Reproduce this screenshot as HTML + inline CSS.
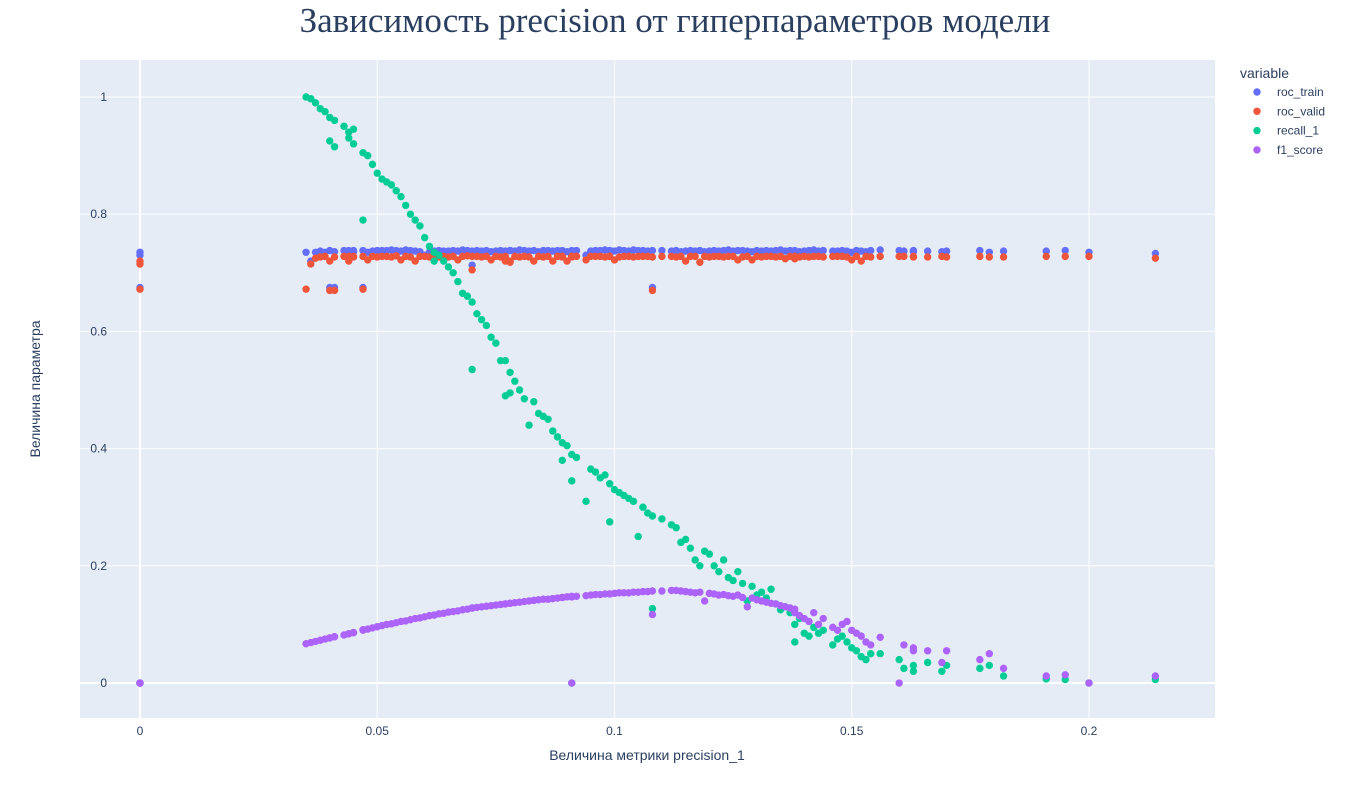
<!DOCTYPE html>
<html><head><meta charset="utf-8"><style>
body{margin:0;background:#fff;}
svg text{font-family:"Liberation Sans",sans-serif;fill:#2a3f5f;}
</style></head><body>
<svg id="chart" width="1350" height="800" xmlns="http://www.w3.org/2000/svg">
<text x="675" y="32" text-anchor="middle" style="font-family:'Liberation Serif',serif;font-size:35px;">Зависимость precision от гиперпараметров модели</text>
<rect x="80" y="60" width="1135" height="658" fill="#e5ecf6"/>
<g id="grid"></g><g id="marks"></g><g id="axes"></g>
<text x="647" y="760" text-anchor="middle" font-size="14">Величина метрики precision_1</text>
<text transform="translate(40,389) rotate(-90)" text-anchor="middle" font-size="14">Величина параметра</text>
<g id="legend">
<text x="1240" y="78" font-size="14">variable</text>
</g>
</svg>
<script>
const xTicks=[0,0.05,0.1,0.15,0.2];
const xTickLabels=["0","0.05","0.1","0.15","0.2"];
const yTicks=[0,0.2,0.4,0.6,0.8,1];
const yTickLabels=["0","0.2","0.4","0.6","0.8","1"];
const seriesNames=["roc_train","roc_valid","recall_1","f1_score"];
const seriesColors=["#636efa","#ef553b","#00cc96","#ab63fa"];
const precision=[0.035,0.036,0.037,0.038,0.039,0.040,0.041,0.040,0.041,0.043,
0.044,0.044,0.045,0.045,0.047,0.048,0.047,0.049,0.050,0.051,
0.052,0.053,0.054,0.055,0.056,0.057,0.058,0.059,0.060,0.061,
0.062,0.063,0.062,0.064,0.065,0.066,0.067,0.068,0.069,0.070,
0.070,0.071,0.072,0.073,0.074,0.075,0.076,0.077,0.078,0.077,
0.078,0.079,0.080,0.081,0.082,0.083,0.084,0.085,0.086,0.087,
0.088,0.089,0.089,0.090,0.091,0.091,0.092,0.094,0.095,0.096,
0.097,0.098,0.099,0.100,0.099,0.101,0.102,0.103,0.104,0.105,
0.106,0.107,0.108,0.108,0.110,0.112,0.113,0.114,0.115,0.116,
0.117,0.118,0.119,0.120,0.121,0.122,0.123,0.124,0.125,0.126,
0.127,0.128,0.129,0.130,0.131,0.132,0.133,0.134,0.135,0.136,
0.137,0.138,0.138,0.139,0.140,0.141,0.142,0.143,0.144,0.146,
0.147,0.148,0.149,0.150,0.151,0.152,0.153,0.154,0.156,0.160,
0.161,0.163,0.163,0.166,0.169,0.170,0.177,0.179,0.182,0.191,
0.195,0.200,0.214,0.000,0.000,0.000,0.091];
const rocTrain=[0.735,0.72,0.735,0.737,0.735,0.738,0.736,0.675,0.675,0.738,
0.738,0.737,0.738,0.736,0.738,0.735,0.675,0.737,0.738,0.738,
0.738,0.739,0.738,0.737,0.739,0.738,0.737,0.736,0.730,0.735,
0.737,0.738,0.736,0.737,0.737,0.738,0.737,0.739,0.738,0.737,
0.713,0.738,0.737,0.738,0.736,0.737,0.738,0.737,0.738,0.736,
0.738,0.737,0.739,0.738,0.737,0.738,0.736,0.738,0.738,0.737,
0.738,0.737,0.738,0.736,0.738,0.737,0.738,0.730,0.737,0.738,
0.738,0.739,0.738,0.737,0.738,0.739,0.738,0.737,0.739,0.738,
0.738,0.737,0.738,0.675,0.738,0.737,0.738,0.736,0.737,0.738,
0.737,0.738,0.736,0.737,0.738,0.737,0.738,0.739,0.737,0.738,
0.738,0.737,0.736,0.738,0.737,0.738,0.737,0.738,0.739,0.737,
0.738,0.737,0.738,0.736,0.737,0.738,0.739,0.737,0.738,0.737,
0.737,0.738,0.737,0.735,0.738,0.737,0.736,0.738,0.739,0.738,
0.737,0.738,0.736,0.737,0.736,0.737,0.738,0.735,0.737,0.737,
0.738,0.735,0.733,0.735,0.730,0.675,0.737];
const rocValid=[0.672,0.715,0.725,0.727,0.728,0.72,0.727,0.67,0.67,0.728,
0.728,0.72,0.728,0.727,0.728,0.722,0.672,0.728,0.727,0.728,
0.728,0.727,0.729,0.722,0.728,0.727,0.72,0.728,0.728,0.727,
0.728,0.727,0.728,0.728,0.727,0.728,0.722,0.728,0.729,0.728,
0.705,0.728,0.727,0.728,0.722,0.728,0.727,0.72,0.718,0.728,
0.72,0.728,0.727,0.728,0.727,0.72,0.728,0.727,0.728,0.72,
0.728,0.727,0.728,0.72,0.728,0.727,0.728,0.722,0.728,0.728,
0.728,0.727,0.728,0.722,0.728,0.727,0.728,0.728,0.727,0.728,
0.728,0.728,0.727,0.67,0.728,0.728,0.727,0.728,0.72,0.728,
0.728,0.718,0.728,0.727,0.728,0.728,0.727,0.728,0.728,0.722,
0.727,0.728,0.722,0.728,0.727,0.728,0.728,0.727,0.728,0.724,
0.728,0.724,0.728,0.727,0.728,0.727,0.728,0.728,0.727,0.728,
0.728,0.728,0.727,0.722,0.728,0.72,0.728,0.727,0.728,0.728,
0.728,0.728,0.727,0.727,0.728,0.727,0.728,0.727,0.727,0.728,
0.728,0.728,0.725,0.72,0.715,0.672,0.728];
const recall=[1.00,0.997,0.99,0.98,0.975,0.965,0.96,0.925,0.915,0.95,
0.94,0.93,0.92,0.945,0.905,0.90,0.79,0.885,0.87,0.86,
0.855,0.85,0.84,0.83,0.815,0.80,0.79,0.78,0.76,0.745,
0.735,0.73,0.72,0.72,0.71,0.70,0.685,0.665,0.66,0.65,
0.535,0.63,0.62,0.61,0.59,0.58,0.55,0.55,0.53,0.49,
0.495,0.515,0.50,0.485,0.44,0.48,0.46,0.455,0.45,0.43,
0.42,0.41,0.38,0.405,0.39,0.345,0.385,0.31,0.365,0.36,
0.35,0.355,0.34,0.33,0.275,0.325,0.32,0.315,0.31,0.25,
0.30,0.29,0.285,0.127,0.28,0.27,0.265,0.24,0.245,0.23,
0.21,0.20,0.225,0.22,0.20,0.19,0.21,0.18,0.175,0.19,
0.17,0.14,0.165,0.15,0.155,0.145,0.16,0.135,0.125,0.13,
0.12,0.10,0.07,0.11,0.085,0.08,0.095,0.085,0.09,0.065,
0.075,0.08,0.07,0.06,0.055,0.045,0.04,0.05,0.05,0.04,
0.025,0.03,0.02,0.035,0.02,0.03,0.025,0.03,0.012,0.007,
0.006,0.0,0.006,0.0,0.0,0.0,0.0];
const f1Score=[0.067,0.069,0.071,0.073,0.075,0.077,0.079,0.077,0.079,0.082,
0.084,0.084,0.086,0.086,0.090,0.092,0.091,0.094,0.096,0.098,
0.100,0.101,0.103,0.105,0.106,0.108,0.110,0.111,0.113,0.115,
0.116,0.118,0.116,0.119,0.121,0.122,0.123,0.125,0.126,0.128,
0.128,0.129,0.130,0.131,0.132,0.133,0.134,0.135,0.136,0.135,
0.136,0.137,0.138,0.139,0.140,0.141,0.142,0.143,0.143,0.144,
0.145,0.146,0.146,0.147,0.147,0.148,0.148,0.149,0.150,0.151,
0.151,0.152,0.152,0.153,0.152,0.154,0.154,0.154,0.155,0.155,
0.156,0.156,0.157,0.117,0.157,0.158,0.158,0.157,0.156,0.155,
0.154,0.155,0.14,0.153,0.152,0.150,0.151,0.149,0.148,0.150,
0.146,0.13,0.145,0.142,0.140,0.138,0.136,0.135,0.132,0.13,
0.128,0.126,0.12,0.115,0.11,0.105,0.12,0.10,0.11,0.095,
0.09,0.10,0.105,0.09,0.085,0.08,0.07,0.065,0.078,0.0,
0.065,0.055,0.06,0.055,0.035,0.055,0.04,0.05,0.025,0.012,
0.014,0.0,0.012,0.0,0.0,0.0,0.0];

const NS="http://www.w3.org/2000/svg";
const PL=80,PR=1215,PT=60,PB=718;
const xMin=-0.01264,xMax=0.22656,yMin=-0.0597,yMax=1.0631;
function xs(v){return PL+(v-xMin)/(xMax-xMin)*(PR-PL);}
function ys(v){return PB-(v-yMin)/(yMax-yMin)*(PB-PT);}
function mk(tag,attrs,parent){const e=document.createElementNS(NS,tag);for(const k in attrs)e.setAttribute(k,attrs[k]);parent.appendChild(e);return e;}
const grid=document.getElementById('grid'),axes=document.getElementById('axes'),marks=document.getElementById('marks');
xTicks.forEach((t,i)=>{
  const l=mk('line',{x1:xs(t),x2:xs(t),y1:PT,y2:PB,stroke:'#fff','stroke-width':t===0?2:1},grid);
  
  
  const tx=mk('text',{x:xs(t),y:PB+17,'text-anchor':'middle','font-size':12},axes);
  tx.textContent=xTickLabels[i];
  
  
});
yTicks.forEach((t,i)=>{
  const l=mk('line',{x1:PL,x2:PR,y1:ys(t),y2:ys(t),stroke:'#fff','stroke-width':t===0?2:1},grid);
  
  
  const tx=mk('text',{x:107,y:ys(t)+4,'text-anchor':'end','font-size':12},axes);
  tx.textContent=yTickLabels[i];
  
  
});
const seriesVals=[rocTrain,rocValid,recall,f1Score];
seriesVals.forEach((vals,s)=>{
  const g=mk('g',{},marks);
  
  
  vals.forEach((v,i)=>{
    const c=mk('circle',{cx:xs(precision[i]),cy:ys(v),r:3.7,fill:seriesColors[s]},g);
    
    
  });
});
const lg=document.getElementById('legend');
seriesNames.forEach((n,i)=>{
  const y=92+i*19.3;
  const g=mk('g',{},lg);
  
  
  mk('circle',{cx:1257,cy:y,r:3.7,fill:seriesColors[i]},g);
  const t=mk('text',{x:1277,y:y+4,'font-size':12},g);
  t.textContent=n;
});
</script>
</body></html>
